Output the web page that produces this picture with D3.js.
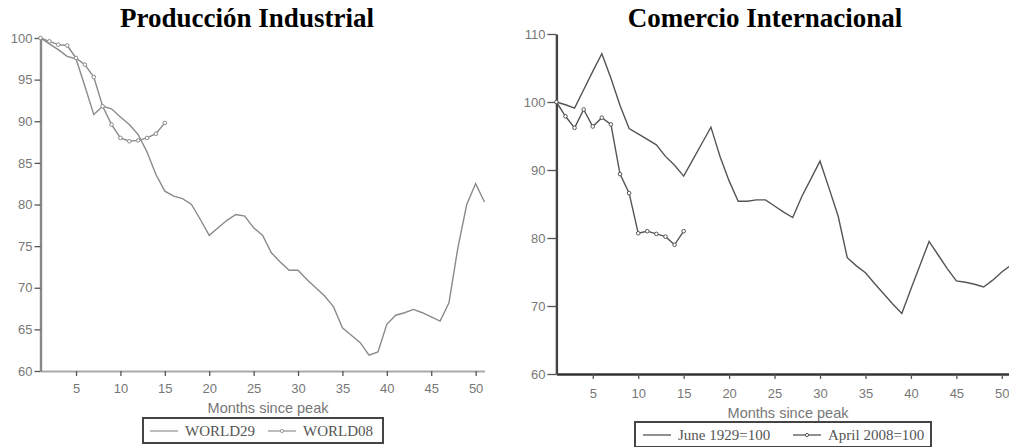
<!DOCTYPE html>
<html>
<head>
<meta charset="utf-8">
<script src="https://cdn.jsdelivr.net/npm/d3@7"></script>
<style>
  body { margin: 0; background: #fff; }
  svg { display: block; }
</style>
</head>
<body>
<div id="chart"></div>
<script>
// Months since peak (1 = peak month)
const months = d3.range(1, 52);
const months08 = d3.range(1, 16);

// Producción Industrial
const world29 = [100, 99.3, 98.6, 97.8, 97.5, 94.2, 90.8, 91.8, 91.5, 90.5,
  89.6, 88.4, 86.3, 83.6, 81.6, 81.0, 80.7, 80.0, 78.2, 76.3,
  77.2, 78.1, 78.8, 78.6, 77.2, 76.3, 74.2, 73.1, 72.1, 72.1,
  71.0, 70.0, 69.0, 67.7, 65.2, 64.3, 63.4, 61.9, 62.3, 65.6,
  66.7, 67.0, 67.4, 67.0, 66.5, 66.0, 68.2, 74.8, 80.0, 82.5, 80.3];
const world08 = [100, 99.6, 99.2, 99.1, 97.6, 96.8, 95.3, 91.8, 89.6, 88.0,
  87.6, 87.7, 88.0, 88.5, 89.8];

// Comercio Internacional
const trade29 = [100, 99.6, 99.1, 101.8, 104.5, 107.1, 103.5, 99.5, 96.1, 95.3,
  94.5, 93.7, 92.0, 90.7, 89.1, 91.5, 93.9, 96.3, 92.0, 88.4,
  85.4, 85.4, 85.6, 85.6, 84.7, 83.8, 83.0, 86.1, 88.7, 91.3,
  87.3, 83.2, 77.1, 75.9, 74.9, 73.3, 71.8, 70.3, 68.9, 72.5,
  76.0, 79.5, 77.5, 75.5, 73.7, 73.5, 73.2, 72.8, 73.8, 75.0, 76.0];
const trade08 = [100, 97.9, 96.2, 98.9, 96.4, 97.7, 96.7, 89.4, 86.6, 80.7,
  81.0, 80.6, 80.2, 79.0, 81.0];

const xTicks = [5, 10, 15, 20, 25, 30, 35, 40, 45, 50];
const yTicksIP = [60, 65, 70, 75, 80, 85, 90, 95, 100];
const yTicksTrade = [60, 70, 80, 90, 100, 110];

const legendIP = ["WORLD29", "WORLD08"];
const legendTrade = ["June 1929=100", "April 2008=100"];

const svg = d3.select("#chart").append("svg")
  .attr("width", 1009)
  .attr("height", 447);

function drawPanel(p) {
  const g = svg.append("g");

  const x = d3.scaleLinear().domain([1, 51]).range(p.xRange);
  const y = d3.scaleLinear().domain(p.yDomain).range(p.yRange);

  // title
  g.append("text")
    .attr("x", p.titleX)
    .attr("y", 27)
    .attr("text-anchor", "middle")
    .style("font-family", "Liberation Serif")
    .style("font-weight", "bold")
    .style("font-size", "27px")
    .style("fill", "#000")
    .text(p.title);

  // axes
  const xAxis = g.append("g")
    .attr("transform", `translate(0,${p.yRange[0]})`)
    .call(d3.axisBottom(x).tickValues(xTicks).tickSize(5).tickSizeOuter(0).tickPadding(p.xPad));
  xAxis.select(".domain").attr("stroke", p.xAxisColor).attr("stroke-width", p.xAxisWidth);

  const yAxis = g.append("g")
    .attr("transform", `translate(${p.xRange[0]},0)`)
    .call(d3.axisLeft(y).tickValues(p.yTicks).tickSize(p.yTickSize).tickSizeOuter(0).tickPadding(2));
  yAxis.select(".domain").attr("stroke", p.yAxisColor).attr("stroke-width", 2.4);

  g.selectAll(".tick line").attr("stroke", "#555").attr("stroke-width", 1.3);
  g.selectAll(".tick text")
    .style("font-family", "Liberation Sans")
    .style("font-size", "13px")
    .style("fill", "#777");

  // axis label
  g.append("text")
    .attr("x", p.labelX)
    .attr("y", p.labelY)
    .attr("text-anchor", "middle")
    .style("font-family", "Liberation Sans")
    .style("font-size", "14.5px")
    .style("fill", "#777")
    .text("Months since peak");

  const line = d3.line()
    .x(d => x(d[0]))
    .y(d => y(d[1]));

  const s1 = months.map((m, i) => [m, p.series1[i]]);
  const s2 = months08.map((m, i) => [m, p.series2[i]]);

  g.append("path")
    .datum(s1)
    .attr("fill", "none")
    .attr("stroke", p.lineColor)
    .attr("stroke-width", 1.4)
    .attr("d", line);

  g.append("path")
    .datum(s2)
    .attr("fill", "none")
    .attr("stroke", p.lineColor)
    .attr("stroke-width", 1.4)
    .attr("d", line);

  g.selectAll(".marker")
    .data(s2)
    .enter()
    .append("circle")
    .attr("class", "marker")
    .attr("cx", d => x(d[0]))
    .attr("cy", d => y(d[1]))
    .attr("r", 1.8)
    .attr("fill", "#fff")
    .attr("stroke", p.lineColor)
    .attr("stroke-width", 1);

  // legend
  const lg = g.append("g").attr("transform", `translate(${p.legend.x},${p.legend.y})`);
  lg.append("rect")
    .attr("width", p.legend.w)
    .attr("height", 25)
    .attr("fill", "#fff")
    .attr("stroke", "#444")
    .attr("stroke-width", 2);

  p.legend.items.forEach((name, i) => {
    const ox = p.legend.offsets[i];
    lg.append("line")
      .attr("x1", ox).attr("x2", ox + 28)
      .attr("y1", 13).attr("y2", 13)
      .attr("stroke", p.legendLineColor)
      .attr("stroke-width", 1.3);
    if (i === 1) {
      lg.append("circle")
        .attr("cx", ox + 14).attr("cy", 13).attr("r", 1.6)
        .attr("fill", "#fff").attr("stroke", p.legendLineColor);
    }
    lg.append("text")
      .attr("x", ox + 35)
      .attr("y", 18)
      .style("font-family", "Liberation Serif")
      .style("font-size", p.legend.fontSize)
      .style("fill", "#555")
      .text(name);
  });
}

drawPanel({
  title: "Producción Industrial",
  titleX: 247,
  xRange: [40.5, 484.5],
  yDomain: [60, 100],
  yRange: [371, 38],
  yTicks: yTicksIP,
  yTickSize: 6,
  xPad: 8,
  xAxisColor: "#aaa",
  xAxisWidth: 2,
  yAxisColor: "#888",
  lineColor: "#8a8a8a",
  legendLineColor: "#999",
  labelX: 268,
  labelY: 413,
  series1: world29,
  series2: world08,
  legend: { x: 143, y: 418, w: 240, items: legendIP, offsets: [7, 125], fontSize: "15px" }
});

drawPanel({
  title: "Comercio Internacional",
  titleX: 765,
  xRange: [556.4, 1010.9],
  yDomain: [60, 110],
  yRange: [374, 34],
  yTicks: yTicksTrade,
  yTickSize: 9,
  xPad: 10,
  xAxisColor: "#333",
  xAxisWidth: 2.6,
  yAxisColor: "#444",
  lineColor: "#555",
  legendLineColor: "#555",
  labelX: 788,
  labelY: 418,
  series1: trade29,
  series2: trade08,
  legend: { x: 635, y: 422, w: 296, items: legendTrade, offsets: [8, 158], fontSize: "15px" }
});
</script>
</body>
</html>
